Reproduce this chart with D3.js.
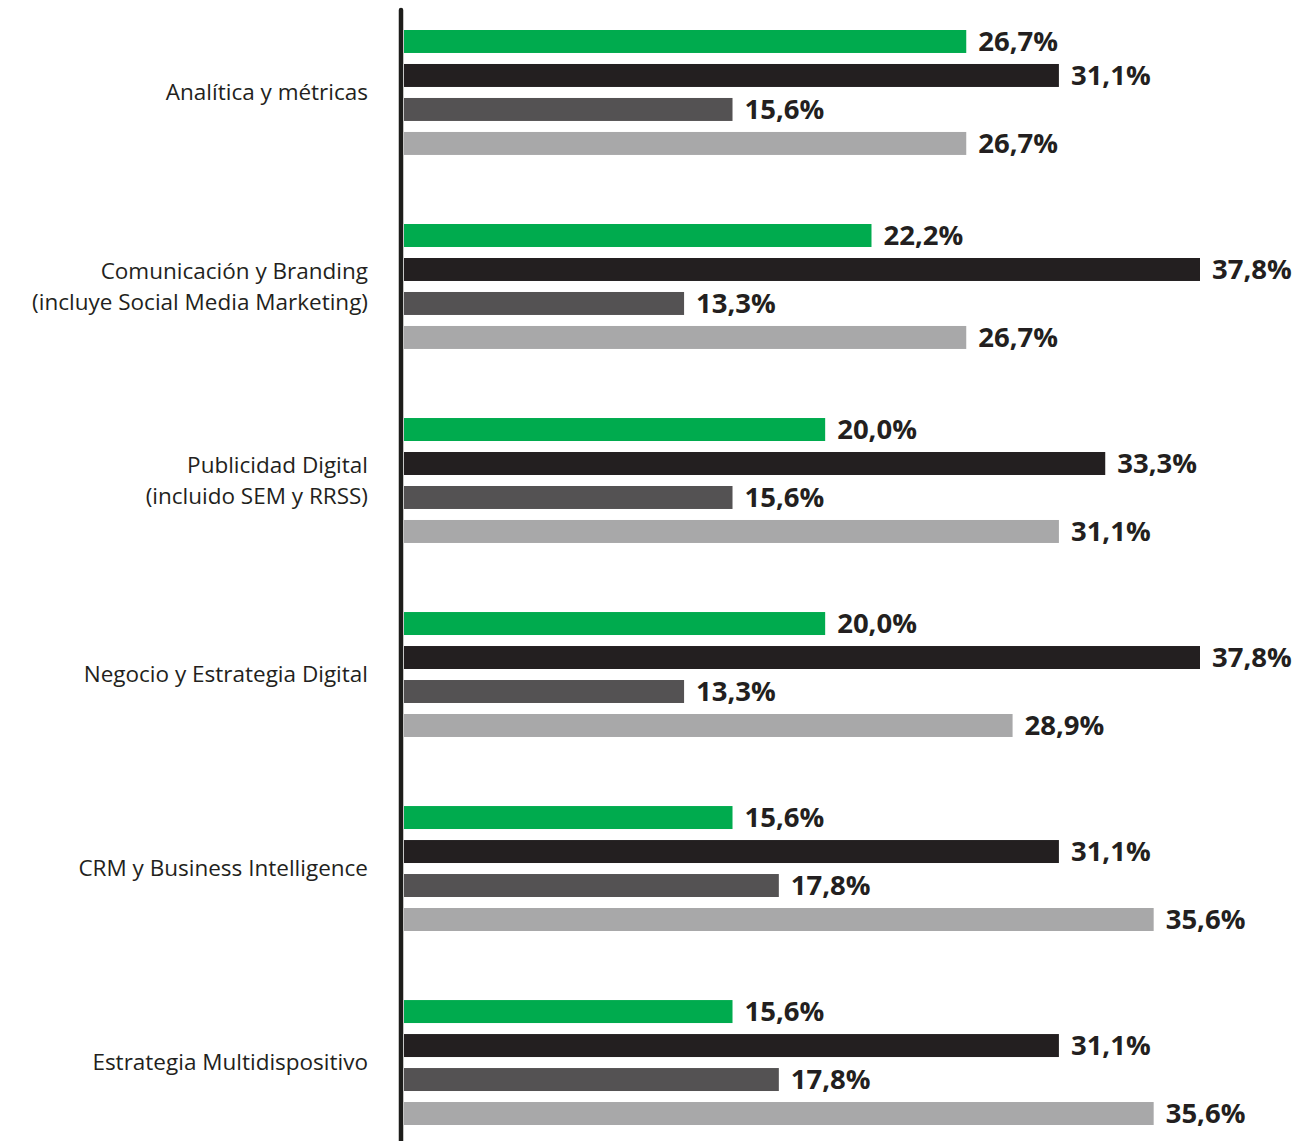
<!DOCTYPE html>
<html>
<head>
<meta charset="utf-8">
<script src="https://cdn.jsdelivr.net/npm/d3@7"></script>
<style>
  html, body { margin: 0; padding: 0; background: #fff; }
  svg { display: block; }
</style>
</head>
<body>
<div id="chart"></div>
<script>
const categories = [
  ["Analítica y métricas"],
  ["Comunicación y Branding", "(incluye Social Media Marketing)"],
  ["Publicidad Digital", "(incluido SEM y RRSS)"],
  ["Negocio y Estrategia Digital"],
  ["CRM y Business Intelligence"],
  ["Estrategia Multidispositivo"]
];
const seriesNames = ["Serie 1", "Serie 2", "Serie 3", "Serie 4"];
const seriesColors = ["#00ab4e", "#231f20", "#545253", "#a8a8a9"];
const serie1 = [26.7, 22.2, 20.0, 20.0, 15.6, 15.6];
const serie2 = [31.1, 37.8, 33.3, 37.8, 31.1, 31.1];
const serie3 = [15.6, 13.3, 15.6, 13.3, 17.8, 17.8];
const serie4 = [26.7, 26.7, 31.1, 28.9, 35.6, 35.6];
const seriesValues = [serie1, serie2, serie3, serie4];

const W = 1315, H = 1141;
const svg = d3.select("#chart").append("svg").attr("width", W).attr("height", H);

const catKeys = categories.map(c => c.join(" "));
const y = d3.scaleBand().domain(catKeys).range([30, 1125]).paddingInner(0.356).paddingOuter(0);
const yi = d3.scaleBand().domain(seriesNames).range([0, y.bandwidth()]).paddingInner(0.324).paddingOuter(0);
const x = d3.scaleLinear().domain([0, 37.8]).range([404, 1200]);

const fmt = v => d3.format(".1f")(v).replace(".", ",") + "%";

const groups = svg.selectAll("g.grp").data(categories).join("g")
  .attr("class", "grp")
  .attr("transform", (d) => `translate(0,${y(d.join(" "))})`);

groups.each(function(cat, ci) {
  const g = d3.select(this);
  const rows = seriesNames.map((s, si) => ({ s, si, v: seriesValues[si][ci] }));
  g.selectAll("rect").data(rows).join("rect")
    .attr("x", x(0))
    .attr("y", d => yi(d.s))
    .attr("width", d => x(d.v) - x(0))
    .attr("height", yi.bandwidth())
    .attr("fill", d => seriesColors[d.si]);
  g.selectAll("text.val").data(rows).join("text")
    .attr("class", "val")
    .attr("x", d => x(d.v) + 12)
    .attr("y", d => yi(d.s) + yi.bandwidth() / 2)
    .attr("dy", "0.36em")
    .attr("font-family", "'Open Sans', sans-serif")
    .attr("font-weight", 700)
    .attr("font-size", 27.5)
    .attr("fill", "#231f20")
    .text(d => fmt(d.v));

  const lines = cat;
  const cy = y.bandwidth() / 2;
  const lh = 31;
  const t = g.append("text")
    .attr("text-anchor", "end")
    .attr("font-family", "'Open Sans', sans-serif")
    .attr("font-size", 22.5)
    .attr("fill", "#231f20");
  lines.forEach((ln, li) => {
    t.append("tspan")
      .attr("x", 368)
      .attr("y", cy + (li - (lines.length - 1) / 2) * lh)
      .attr("dy", "0.35em")
      .text(ln);
  });
});

svg.append("line")
  .attr("x1", 401).attr("x2", 401)
  .attr("y1", 10).attr("y2", H)
  .attr("stroke", "#1d1d1b")
  .attr("stroke-width", 4.5)
  .attr("stroke-linecap", "round");
</script>
</body>
</html>
